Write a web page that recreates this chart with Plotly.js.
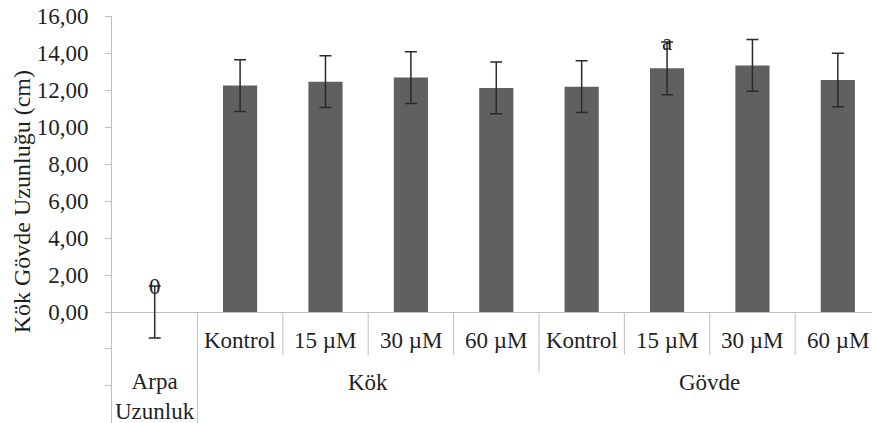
<!DOCTYPE html>
<html>
<head>
<meta charset="utf-8">
<script src="https://cdn.plot.ly/plotly-3.0.1.min.js"></script>
<style>html,body{margin:0;padding:0;background:#fff;}#chart{width:872px;height:423px;}</style>
</head>
<body>
<div id="chart"></div>
<script>
// ---- data ----
var subLabels = ["Arpa<br>Uzunluk", "Kontrol", "15 µM", "30 µM", "60 µM", "Kontrol", "15 µM", "30 µM", "60 µM"];
var groupNames = ["Kök", "Gövde"];
var groupMembers = [[1, 2, 3, 4], [5, 6, 7, 8]];
var values = [0, 12.24, 12.45, 12.67, 12.11, 12.18, 13.17, 13.33, 12.54];
var errors = [1.4, 1.4, 1.4, 1.4, 1.4, 1.4, 1.42, 1.4, 1.44];
var letters = ["0", "", "", "", "", "", "a", "", ""];
var yTickVals = [0, 2, 4, 6, 8, 10, 12, 14, 16];
var yTickText = ["0,00", "2,00", "4,00", "6,00", "8,00", "10,00", "12,00", "14,00", "16,00"];
var yTitle = "Kök Gövde Uzunluğu (cm)";

// ---- drawing ----
var FONT = "Liberation Serif";
var TXT = "#1f1f1f";
var LINE = "#bfbfbf";
var xs = values.map(function (v, i) { return i; });

var trace = {
  type: "bar",
  x: xs,
  y: values,
  width: 0.4,
  marker: { color: "#606060" },
  error_y: { type: "data", array: errors, visible: true, color: "#2a2a2a", thickness: 1.5, width: 6 },
  hoverinfo: "none"
};

var LEVEL1_Y = -1.52, LEVEL2_Y = -3.82;
var annotations = [];
var shapes = [];

subLabels.forEach(function (lab, i) {
  var isTop = i === 0;
  annotations.push({
    x: xs[i], y: isTop ? -4.55 : LEVEL1_Y, xref: "x", yref: "y",
    text: lab, showarrow: false, font: { family: FONT, size: 23, color: TXT }
  });
});
groupNames.forEach(function (g, k) {
  var m = groupMembers[k];
  var cx = (xs[m[0]] + xs[m[m.length - 1]]) / 2;
  annotations.push({
    x: cx, y: LEVEL2_Y, xref: "x", yref: "y",
    text: g, showarrow: false, font: { family: FONT, size: 23, color: TXT }
  });
});
letters.forEach(function (l, i) {
  if (!l) return;
  annotations.push({
    x: xs[i], y: values[i] + errors[i], xref: "x", yref: "y",
    text: l, showarrow: false, yanchor: "middle", font: { family: FONT, size: 23, color: TXT }
  });
});
// y-axis title
annotations.push({
  xref: "paper", yref: "paper", x: -0.118, y: 0.543, xanchor: "center", yanchor: "middle",
  text: yTitle, textangle: -90, showarrow: false, font: { family: FONT, size: 24, color: TXT }
});

// category dividers
for (var i = 1; i < xs.length; i++) {
  var bx = xs[i] - 0.5;
  var depth;
  if (i === 1) depth = -6.5;
  else if (i === groupMembers[1][0]) depth = -3.25;
  else depth = -2.33;
  shapes.push({ type: "line", xref: "x", yref: "y", x0: bx, x1: bx, y0: 0, y1: depth, line: { color: LINE, width: 1 } });
}

var layout = {
  width: 872, height: 423,
  margin: { l: 112, r: 0, t: 16, b: 0 },
  paper_bgcolor: "#fff", plot_bgcolor: "#fff",
  showlegend: false,
  font: { family: FONT },
  xaxis: { range: [-0.5, 8.4], showticklabels: false, showgrid: false, zeroline: false, showline: false, ticks: "", fixedrange: true },
  yaxis: {
    range: [-6.0, 16], showgrid: false,
    zeroline: true, zerolinecolor: LINE, zerolinewidth: 1,
    showline: true, linecolor: LINE, linewidth: 1,
    ticks: "outside", ticklen: 6, tickcolor: LINE,
    tickmode: "array",
    tickvals: [-3.95, -1.95].concat(yTickVals),
    ticktext: ["", ""].concat(yTickText),
    tickfont: { family: FONT, size: 23, color: TXT },
    ticklabelstandoff: 12
  },
  annotations: annotations,
  shapes: shapes
};

Plotly.newPlot("chart", [trace], layout, { displayModeBar: false, staticPlot: true });
</script>
</body>
</html>
